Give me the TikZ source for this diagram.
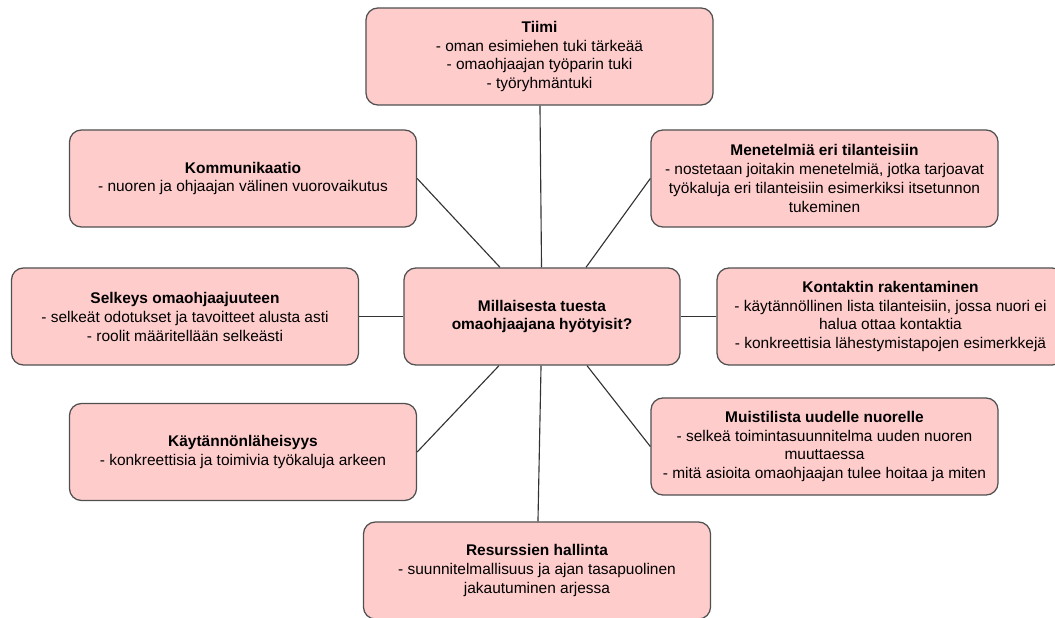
\documentclass[tikz,border=0pt]{standalone}
\usepackage{fontspec}
\setmainfont{Liberation Sans}
\usetikzlibrary{calc}
\definecolor{boxfill}{HTML}{FFCCCC}
\definecolor{boxline}{HTML}{505050}
\definecolor{linkline}{HTML}{333333}

\begin{document}
\begin{tikzpicture}[x=0.025cm, y=-0.025cm,
    topic/.style={draw=boxline, fill=boxfill, line width=0.9pt, rounded corners=0.3cm,
      minimum width=8.675cm, minimum height=2.425cm, align=center,
      font=\fontsize{11}{13.5}\selectfont, inner sep=2pt},
    link/.style={draw=linkline, line width=0.8pt}]
            % frame of the picture
            \useasboundingbox (0,0) rectangle (1055,618);
            \clip (0,0) rectangle (1055,618);
            % central question
            \node[topic, minimum width=6.9cm] (ctr) at (542,316.5)
              {\textbf{Millaisesta tuesta}\\\textbf{omaohjaajana hyötyisit?}};
            % topics round it
            \node[topic] (tiimi) at (539.5,56.5)
              {\textbf{Tiimi}\\- oman esimiehen tuki tärkeää\\- omaohjaajan työparin tuki\\- työryhmäntuki};
            \node[topic] (komm) at (243,178.5)
              {\textbf{Kommunikaatio}\\- nuoren ja ohjaajan välinen vuorovaikutus};
            \node[topic] (menet) at (824.5,178.5)
              {\textbf{Menetelmiä eri tilanteisiin}\\- nostetaan joitakin menetelmiä, jotka tarjoavat\\työkaluja eri tilanteisiin esimerkiksi itsetunnon\\tukeminen};
            \node[topic] (selk) at (185,316.5)
              {\textbf{Selkeys omaohjaajuuteen}\\- selkeät odotukset ja tavoitteet alusta asti\\- roolit määritellään selkeästi};
            \node[topic] (kont) at (890.5,316.5)
              {\textbf{Kontaktin rakentaminen}\\- käytännöllinen lista tilanteisiin, jossa nuori ei\\halua ottaa kontaktia\\- konkreettisia lähestymistapojen esimerkkejä};
            \node[topic] (kayt) at (243,452)
              {\textbf{Käytännönläheisyys}\\- konkreettisia ja toimivia työkaluja arkeen};
            \node[topic] (muist) at (824.5,446.5)
              {\textbf{Muistilista uudelle nuorelle}\\- selkeä toimintasuunnitelma uuden nuoren\\muuttaessa\\- mitä asioita omaohjaajan tulee hoitaa ja miten};
            \node[topic] (resurs) at (537,570.5)
              {\textbf{Resurssien hallinta}\\- suunnitelmallisuus ja ajan tasapuolinen\\jakautuminen arjessa};
            % connectors
            \draw[link] (tiimi) -- (ctr);
            \draw[link] (komm.east) -- ($(ctr.north)+(-42,0)$);
            \draw[link] (menet.west) -- ($(ctr.north)+(44,0)$);
            \draw[link] (selk) -- (ctr);
            \draw[link] (kont) -- (ctr);
            \draw[link] (kayt.east) -- ($(ctr.south)+(-43,0)$);
            \draw[link] (muist.west) -- ($(ctr.south)+(45,0)$);
            \draw[link] (ctr) -- (resurs);
        \end{tikzpicture}
\end{document}
